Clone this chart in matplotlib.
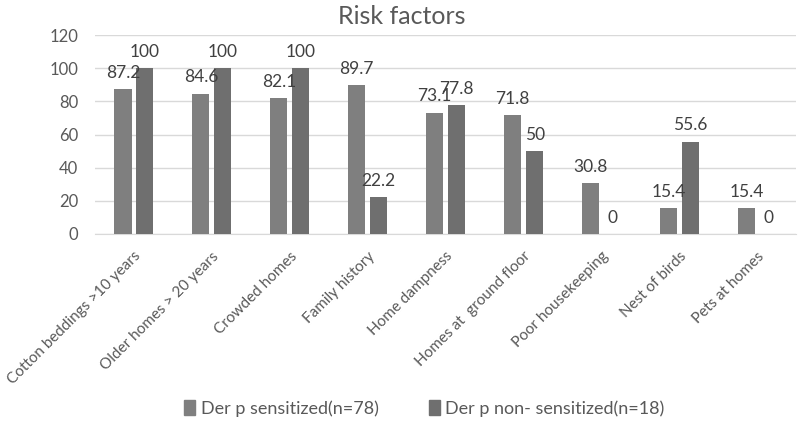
import matplotlib
matplotlib.use("Agg")
import matplotlib.pyplot as plt
import numpy as np

categories = ["Cotton beddings >10 years", "Older homes > 20 years", "Crowded homes",
              "Family history", "Home dampness", "Homes at  ground floor",
              "Poor housekeeping", "Nest of birds", "Pets at homes"]
sensitized = [87.2, 84.6, 82.1, 89.7, 73.1, 71.8, 30.8, 15.4, 15.4]
non_sensitized = [100, 100, 100, 22.2, 77.8, 50, 0, 55.6, 0]
series_names = ["Der p sensitized(n=78)", "Der p non- sensitized(n=18)"]
yticks = [0, 20, 40, 60, 80, 100, 120]

plt.rcParams['font.family'] = ['Lato', 'DejaVu Sans']
fig = plt.figure(figsize=(7.98, 4.23), dpi=100)
ax = fig.add_axes([0.119, 0.447, 0.879, 0.470])

x = np.arange(len(categories))
w = 0.22
off = 0.141
c1, c2 = "#7f7f7f", "#6f6f6f"
b1 = ax.bar(x - off, sensitized, w, color=c1, label=series_names[0], zorder=3)
b2 = ax.bar(x + off, non_sensitized, w, color=c2, label=series_names[1], zorder=3)

txtc = "#404040"
for bars, vals in ((b1, sensitized), (b2, non_sensitized)):
    for b, v in zip(bars, vals):
        ax.annotate(f"{v:g}", (b.get_x() + b.get_width() / 2, v), xytext=(0, 6),
                    textcoords="offset points", ha="center", va="bottom",
                    fontsize=12.5, color=txtc, zorder=4)

ax.set_xlim(-0.5, len(categories) - 0.5)
ax.set_ylim(0, 120)
ax.set_yticks(yticks)
ax.yaxis.grid(True, color="#d9d9d9", linewidth=1, zorder=0)
for s in ["top", "right", "left"]:
    ax.spines[s].set_visible(False)
ax.spines["bottom"].set_color("#d9d9d9")
ax.tick_params(axis="both", length=0, labelsize=12, colors="#595959")
ax.tick_params(axis="y", pad=12)
ax.set_xticks(x)
ax.set_xticklabels(categories, rotation=45, ha="right", rotation_mode="anchor", fontsize=11)
ax.tick_params(axis="x", pad=11)

fig.text(0.503, 0.962, "Risk factors", ha="center", va="center", fontsize=18, color="#595959")

handles = [plt.Rectangle((0, 0), 1, 1, color=c1), plt.Rectangle((0, 0), 1, 1, color=c2)]
fig.legend(handles, series_names, loc="center", bbox_to_anchor=(0.532, 0.035), ncol=2,
           frameon=False, fontsize=13, handlelength=0.6, handleheight=0.9,
           columnspacing=2.8, handletextpad=0.3, labelcolor="#595959")

fig.savefig("out.png", dpi=100)
